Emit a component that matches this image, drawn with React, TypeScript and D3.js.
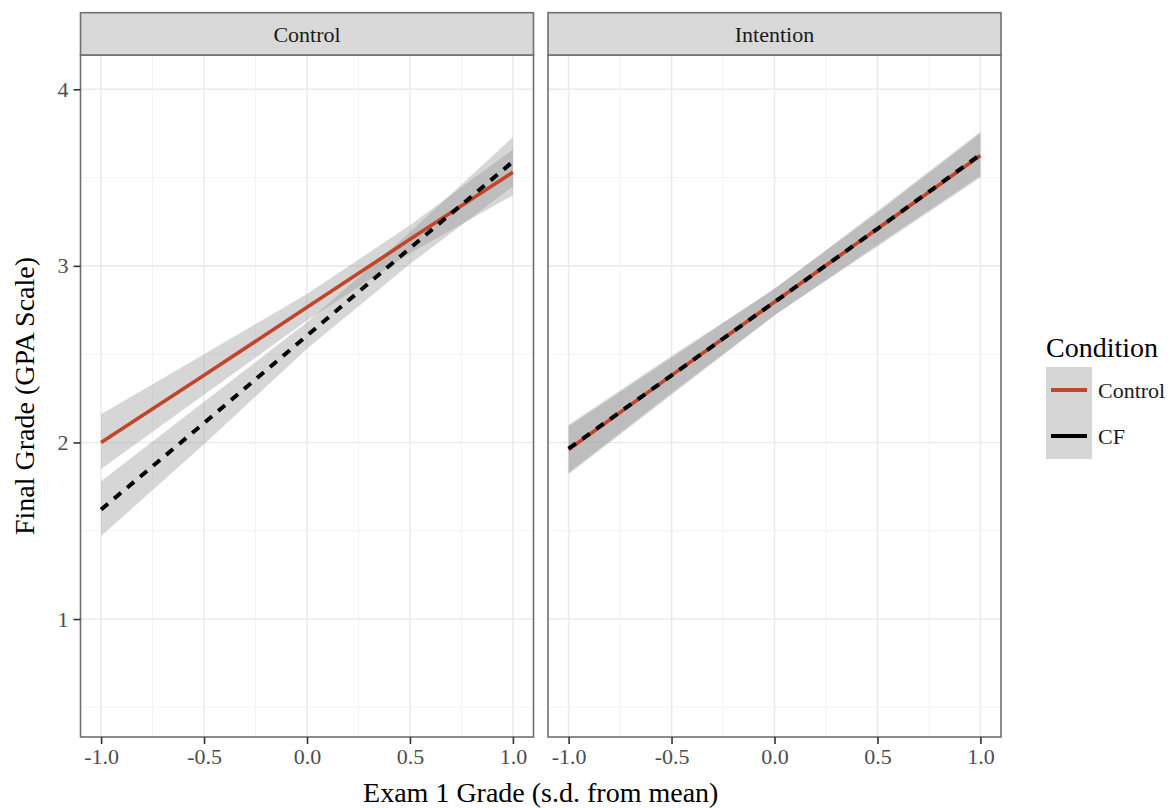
import React, { useEffect, useRef } from "react";
import * as d3 from "d3";

// facets, conditions and ticks
const panels = ["Control", "Intention"];
const conditions = ["Control", "CF"];
const xTicks = [-1, -0.5, 0, 0.5, 1];
const xMinor = [-0.75, -0.25, 0.25, 0.75];
const yTicks = [1, 2, 3, 4];
const yMinor = [0.5, 1.5, 2.5, 3.5];

// fitted lines (geom_smooth, lm)
const fitX = [-1, -0.5, 0, 0.5, 1];

const ctrlPanelControlFit = [2.0, 2.38, 2.765, 3.15, 3.53];
const ctrlPanelControlLo = [1.85, 2.27, 2.69, 3.07, 3.4];
const ctrlPanelControlHi = [2.16, 2.5, 2.84, 3.23, 3.66];

const ctrlPanelCFFit = [1.62, 2.11, 2.605, 3.1, 3.59];
const ctrlPanelCFLo = [1.47, 1.99, 2.53, 3.01, 3.45];
const ctrlPanelCFHi = [1.78, 2.23, 2.68, 3.19, 3.73];

const intPanelControlFit = [1.96, 2.38, 2.795, 3.21, 3.625];
const intPanelControlLo = [1.82, 2.27, 2.72, 3.11, 3.5];
const intPanelControlHi = [2.1, 2.49, 2.87, 3.31, 3.76];

const intPanelCFFit = [1.965, 2.38, 2.795, 3.21, 3.63];
const intPanelCFLo = [1.83, 2.28, 2.72, 3.12, 3.51];
const intPanelCFHi = [2.09, 2.48, 2.87, 3.3, 3.75];

const fits = {
  Control: {
    Control: [ctrlPanelControlFit, ctrlPanelControlLo, ctrlPanelControlHi],
    CF: [ctrlPanelCFFit, ctrlPanelCFLo, ctrlPanelCFHi],
  },
  Intention: {
    Control: [intPanelControlFit, intPanelControlLo, intPanelControlHi],
    CF: [intPanelCFFit, intPanelCFLo, intPanelCFHi],
  },
};

const colors = { Control: "#c24529", CF: "#000000" };
const dashes = { Control: null, CF: "9,8" };

export default function App() {
  const ref = useRef<SVGSVGElement>(null);

  useEffect(() => {
    const svg = d3.select(ref.current);
    svg.selectAll("*").remove();

    const font = "'Liberation Serif', 'Times New Roman', serif";
    const border = "#707070";
    const top = 55, bottom = 737;
    const panelLeft = [80.5, 548];
    const panelW = 453;
    const fmt1 = (d: number) => d.toFixed(1); // plain hyphen, like R

    const y = d3.scaleLinear().domain([0.332, 4.194]).range([bottom, top]);

    panels.forEach((p, i) => {
      const x = d3.scaleLinear().domain([-1.1, 1.1]).range([panelLeft[i], panelLeft[i] + panelW]);
      const g = svg.append("g");

      g.append("rect")
        .attr("x", panelLeft[i]).attr("y", top)
        .attr("width", panelW).attr("height", bottom - top)
        .attr("fill", "white");

      // grid
      g.selectAll(".vmin").data(xMinor).enter().append("line")
        .attr("x1", d => x(d)).attr("x2", d => x(d))
        .attr("y1", top).attr("y2", bottom)
        .attr("stroke", "#f3f3f3").attr("stroke-width", 1);
      g.selectAll(".hmin").data(yMinor).enter().append("line")
        .attr("x1", panelLeft[i]).attr("x2", panelLeft[i] + panelW)
        .attr("y1", d => y(d)).attr("y2", d => y(d))
        .attr("stroke", "#f3f3f3").attr("stroke-width", 1);
      g.selectAll(".vmaj").data(xTicks).enter().append("line")
        .attr("x1", d => x(d)).attr("x2", d => x(d))
        .attr("y1", top).attr("y2", bottom)
        .attr("stroke", "#ebebeb").attr("stroke-width", 1.6);
      g.selectAll(".hmaj").data(yTicks).enter().append("line")
        .attr("x1", panelLeft[i]).attr("x2", panelLeft[i] + panelW)
        .attr("y1", d => y(d)).attr("y2", d => y(d))
        .attr("stroke", "#ebebeb").attr("stroke-width", 1.6);

      // ribbons first, lines on top
      conditions.forEach(c => {
        const [fit, lo, hi] = fits[p][c];
        const area = d3.area<number>()
          .x((d, k) => x(fitX[k]))
          .y0((d, k) => y(lo[k]))
          .y1((d, k) => y(hi[k]));
        g.append("path").datum(fit).attr("d", area)
          .attr("fill", "#999999").attr("fill-opacity", 0.4);
      });
      conditions.forEach(c => {
        const [fit] = fits[p][c];
        const line = d3.line<number>()
          .x((d, k) => x(fitX[k]))
          .y(d => y(d));
        g.append("path").datum(fit).attr("d", line)
          .attr("fill", "none")
          .attr("stroke", colors[c])
          .attr("stroke-width", c === "CF" ? 4 : 3.6)
          .attr("stroke-dasharray", dashes[c]);
      });

      g.append("rect")
        .attr("x", panelLeft[i]).attr("y", top)
        .attr("width", panelW).attr("height", bottom - top)
        .attr("fill", "none").attr("stroke", border).attr("stroke-width", 1.6);

      // strip
      g.append("rect")
        .attr("x", panelLeft[i]).attr("y", 12.7)
        .attr("width", panelW).attr("height", top - 12.7)
        .attr("fill", "#d9d9d9").attr("stroke", border).attr("stroke-width", 1.6);
      g.append("text")
        .attr("x", panelLeft[i] + panelW / 2).attr("y", 34)
        .attr("dy", "0.35em")
        .attr("text-anchor", "middle")
        .attr("font-family", font).attr("font-size", 22)
        .attr("fill", "#1a1a1a")
        .text(p);

      // x axis
      const xa = g.append("g").attr("transform", `translate(0,${bottom})`)
        .call(d3.axisBottom(x).tickValues(xTicks).tickSize(7).tickPadding(4)
          .tickFormat(fmt1));
      xa.select(".domain").remove();
      xa.selectAll("line").attr("stroke", "#333").attr("stroke-width", 1.6);
      xa.selectAll("text").attr("font-family", font).attr("font-size", 22).attr("fill", "#4d4d4d");

      if (i === 0) {
        const ya = g.append("g").attr("transform", `translate(${panelLeft[0]},0)`)
          .call(d3.axisLeft(y).tickValues(yTicks).tickSize(7).tickPadding(5)
            .tickFormat(d3.format("d")));
        ya.select(".domain").remove();
        ya.selectAll("line").attr("stroke", "#333").attr("stroke-width", 1.6);
        ya.selectAll("text").attr("font-family", font).attr("font-size", 22).attr("fill", "#4d4d4d");
      }
    });

    // axis titles
    svg.append("text")
      .attr("x", (panelLeft[0] + panelLeft[1] + panelW) / 2).attr("y", 802)
      .attr("text-anchor", "middle")
      .attr("font-family", font).attr("font-size", 28)
      .text("Exam 1 Grade (s.d. from mean)");
    svg.append("text")
      .attr("transform", `translate(34,${(top + bottom) / 2}) rotate(-90)`)
      .attr("text-anchor", "middle")
      .attr("font-family", font).attr("font-size", 28)
      .text("Final Grade (GPA Scale)");

    // legend
    const lg = svg.append("g").attr("transform", "translate(1046,0)");
    lg.append("text")
      .attr("x", 0).attr("y", 357)
      .attr("font-family", font).attr("font-size", 28)
      .text("Condition");
    conditions.forEach((c, k) => {
      const ky = 367 + k * 46;
      lg.append("rect")
        .attr("x", 0).attr("y", ky).attr("width", 46).attr("height", 46)
        .attr("fill", "#999999").attr("fill-opacity", 0.4);
      lg.append("line")
        .attr("x1", 5).attr("x2", 41)
        .attr("y1", ky + 23).attr("y2", ky + 23)
        .attr("stroke", colors[c]).attr("stroke-width", 4);
      lg.append("text")
        .attr("x", 52).attr("y", ky + 23).attr("dy", "0.35em")
        .attr("font-family", font).attr("font-size", 22)
        .attr("fill", "#1a1a1a")
        .text(c);
    });
  }, []);

  return (
    <svg
      ref={ref}
      width={1171}
      height={808}
      style={{ position: "absolute", left: 0, top: 0, background: "white" }}
    />
  );
}
